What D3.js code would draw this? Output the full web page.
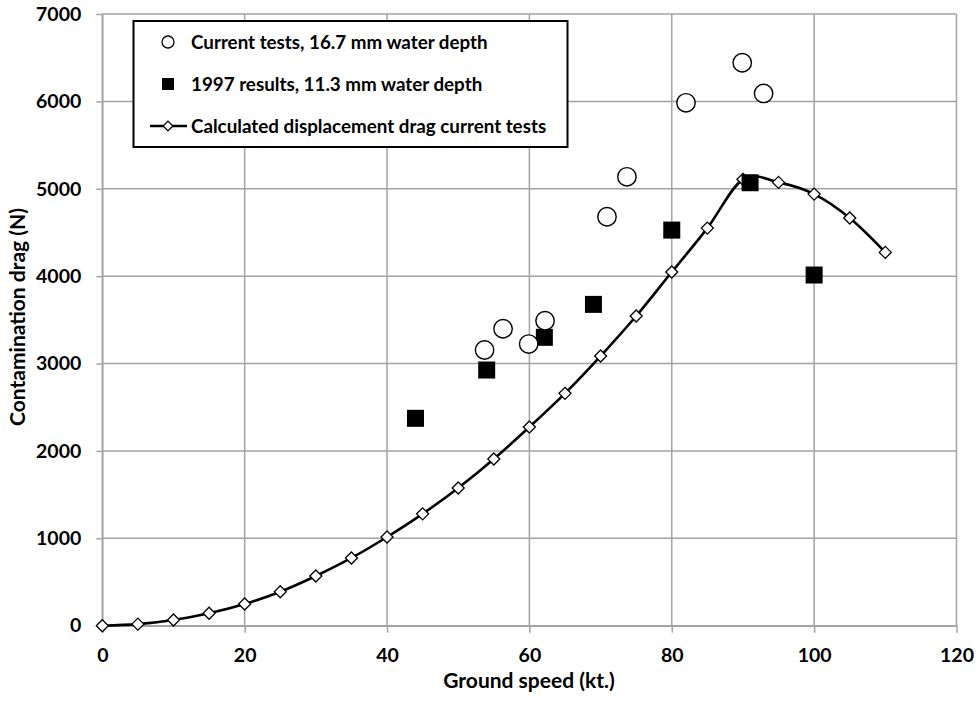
<!DOCTYPE html>
<html>
<head>
<meta charset="utf-8">
<script src="https://cdn.jsdelivr.net/npm/d3@7"></script>
<style>
  html, body { margin: 0; padding: 0; background: #fff; }
  svg { display: block; font-family: Lato, "Open Sans", sans-serif; font-weight: 700; }
</style>
</head>
<body>
<svg id="chart" width="978" height="704"></svg>
<script>
// Calculated displacement drag for the current tests (smoothed line with diamonds)
const calcSpeed = [0, 5, 10, 15, 20, 25, 30, 35, 40, 45, 50, 55, 60, 65, 70, 75, 80, 85, 90, 95, 100, 105, 110];
const calcDrag  = [0, 18, 65, 142, 248, 389, 569, 775, 1015, 1280, 1576, 1908, 2274, 2659, 3086, 3544, 4047, 4550, 5108, 5073, 4939, 4665, 4272];

// Current tests, 16.7 mm water depth (open circles)
const currentSpeed = [53.7, 56.3, 59.9, 62.2, 70.9, 73.7, 82.0, 89.9, 92.9];
const currentDrag  = [3155, 3398, 3223, 3490, 4680, 5137, 5984, 6442, 6091];

// 1997 results, 11.3 mm water depth (filled squares)
const oldSpeed = [44.0, 54.0, 62.1, 69.0, 80.0, 91.0, 100.0];
const oldDrag  = [2373, 2926, 3300, 3677, 4527, 5069, 4013];

// Axis ticks
const xTicks = [0, 20, 40, 60, 80, 100, 120];
const yTicks = [0, 1000, 2000, 3000, 4000, 5000, 6000, 7000];

const legendLabels = [
  "Current tests, 16.7 mm water depth",
  "1997 results, 11.3 mm water depth",
  "Calculated displacement drag current tests"
];

const svg = d3.select("#chart");
const plot = { left: 102.3, right: 956.5, top: 14, bottom: 625.7 };
const gridColor = "#a3a3a3";

const x = d3.scaleLinear().domain([0, 120]).range([plot.left, plot.right]);
const y = d3.scaleLinear().domain([0, 7000]).range([plot.bottom, plot.top]);

// Gridlines
const grid = svg.append("g");
grid.selectAll("line.v").data(xTicks).join("line")
  .attr("x1", d => x(d)).attr("x2", d => x(d))
  .attr("y1", plot.top).attr("y2", plot.bottom)
  .attr("stroke", gridColor).attr("stroke-width", 1.5);
grid.selectAll("line.h").data(yTicks).join("line")
  .attr("x1", plot.left).attr("x2", plot.right)
  .attr("y1", d => y(d)).attr("y2", d => y(d))
  .attr("stroke", gridColor).attr("stroke-width", 1.5);

// Axes
const xAxis = svg.append("g")
  .attr("transform", `translate(0,${plot.bottom})`)
  .call(d3.axisBottom(x).tickValues(xTicks).tickFormat(d3.format("d"))
    .tickSize(7).tickPadding(15).tickSizeOuter(0));
const yAxis = svg.append("g")
  .attr("transform", `translate(${plot.left},0)`)
  .call(d3.axisLeft(y).tickValues(yTicks).tickFormat(d3.format("d"))
    .tickSize(6).tickPadding(15).tickSizeOuter(0));
[xAxis, yAxis].forEach(a => {
  a.select(".domain").attr("stroke", gridColor).attr("stroke-width", 1.5);
  a.selectAll(".tick line").attr("stroke", gridColor).attr("stroke-width", 1.5);
  a.selectAll(".tick text")
    .attr("fill", "#000").attr("font-size", 19.5)
    .attr("font-family", "Lato, sans-serif").attr("font-weight", 700);
});

// Axis titles
svg.append("text")
  .attr("x", 529).attr("y", 688)
  .attr("text-anchor", "middle").attr("font-size", 21)
  .text("Ground speed (kt.)");
svg.append("text")
  .attr("transform", "translate(25,317) rotate(-90)")
  .attr("text-anchor", "middle").attr("font-size", 21)
  .text("Contamination drag (N)");

// Calculated line
const calcData = calcSpeed.map((s, i) => [s, calcDrag[i]]);
const line = d3.line().x(d => x(d[0])).y(d => y(d[1])).curve(d3.curveCatmullRom.alpha(0));
svg.append("path").datum(calcData)
  .attr("d", line).attr("fill", "none")
  .attr("stroke", "#000").attr("stroke-width", 2.6);

const diamond = d3.symbol().type(d3.symbolDiamond2).size(92);
svg.append("g").selectAll("path").data(calcData).join("path")
  .attr("transform", d => `translate(${x(d[0])},${y(d[1])})`)
  .attr("d", diamond)
  .attr("fill", "#fff").attr("stroke", "#000").attr("stroke-width", 1.3);

// 1997 results
const sq = 17;
svg.append("g").selectAll("rect").data(oldSpeed.map((s, i) => [s, oldDrag[i]])).join("rect")
  .attr("x", d => x(d[0]) - sq / 2).attr("y", d => y(d[1]) - sq / 2)
  .attr("width", sq).attr("height", sq).attr("fill", "#000");

// Current tests
svg.append("g").selectAll("circle").data(currentSpeed.map((s, i) => [s, currentDrag[i]])).join("circle")
  .attr("cx", d => x(d[0])).attr("cy", d => y(d[1])).attr("r", 9.2)
  .attr("fill", "#fff").attr("stroke", "#000").attr("stroke-width", 1.4);

// Legend
const lg = svg.append("g");
lg.append("rect")
  .attr("x", 133.5).attr("y", 21).attr("width", 434).attr("height", 126)
  .attr("fill", "#fff").attr("stroke", "#000").attr("stroke-width", 2);
const rowY = [42, 84, 126];
lg.append("circle").attr("cx", 168).attr("cy", rowY[0]).attr("r", 6)
  .attr("fill", "#fff").attr("stroke", "#000").attr("stroke-width", 1.3);
lg.append("rect").attr("x", 168 - 6).attr("y", rowY[1] - 6).attr("width", 12).attr("height", 12).attr("fill", "#000");
lg.append("line").attr("x1", 150).attr("x2", 187).attr("y1", rowY[2]).attr("y2", rowY[2])
  .attr("stroke", "#000").attr("stroke-width", 2.6);
lg.append("path").attr("transform", `translate(168,${rowY[2]})`).attr("d", d3.symbol().type(d3.symbolDiamond2).size(60))
  .attr("fill", "#fff").attr("stroke", "#000").attr("stroke-width", 1.3);
lg.selectAll("text").data(legendLabels).join("text")
  .attr("x", 191).attr("y", (d, i) => rowY[i] + 6.5)
  .attr("font-size", 18.8)
  .text(d => d);
</script>
</body>
</html>
